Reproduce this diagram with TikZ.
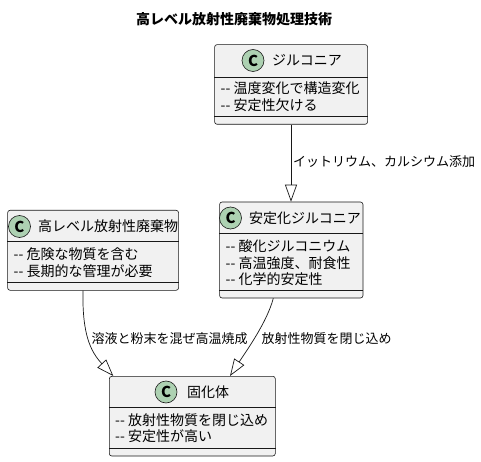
\documentclass[tikz,border=0pt]{standalone}
\usepackage{fontspec}
\setmainfont{Noto Sans CJK JP}
\usetikzlibrary{arrows.meta,calc}
\definecolor{boxfill}{HTML}{F1F1F1}
\definecolor{spotgreen}{HTML}{ADD1B2}
\definecolor{lineclr}{HTML}{181818}
\tikzset{
 cls/.style={draw=lineclr, fill=boxfill, rounded corners=2.5pt, line width=0.6pt, inner sep=0, anchor=north west},
 sepline/.style={draw=lineclr, line width=0.6pt},
 spot/.style={circle, draw=lineclr, fill=spotgreen, line width=0.6pt, minimum size=22pt, inner sep=0, font=\bfseries\fontsize{15}{15}\selectfont},
 cname/.style={anchor=west, inner sep=0, font=\fontsize{14}{16}\selectfont},
 attr/.style={anchor=west, inner sep=0, font=\fontsize{14}{16}\selectfont},
 lbl/.style={anchor=west, inner sep=0, font=\fontsize{13}{15}\selectfont},
 ext/.style={draw=lineclr, line width=0.7pt, -{Triangle[open, length=17pt, width=12pt]}},
}
\newcommand{\dd}{-{}-}
\begin{document}
\begin{tikzpicture}[x=1pt,y=-1pt]
\fill[white] (0,0) rectangle (481,462);
\useasboundingbox (0,0) rectangle (481,462);

\node[font=\bfseries\fontsize{14}{16}\selectfont, inner sep=0] (title) at (234,19) {高レベル放射性廃棄物処理技術};

% ジルコニア
\node[cls, minimum width=153pt, minimum height=79.7pt] (zr) at (214.3,44.3) {};
\draw[sepline] ($(zr.north west)+(0,33.4)$) -- ($(zr.north east)+(0,33.4)$);
\draw[sepline] ($(zr.north west)+(0,72.4)$) -- ($(zr.north east)+(0,72.4)$);
\node[spot] (zrc) at (253,60.5) {C};
\node[cname] (zrn) at (272,60.5) {ジルコニア};
\node[attr] (zra1) at (220.5,88.3) {\dd{} 温度変化で構造変化};
\node[attr] (zra2) at (220.5,105.5) {\dd{} 安定性欠ける};

% 高レベル放射性廃棄物
\node[cls, minimum width=171pt, minimum height=80pt] (hl) at (7.3,210) {};
\draw[sepline] ($(hl.north west)+(0,31.7)$) -- ($(hl.north east)+(0,31.7)$);
\draw[sepline] ($(hl.north west)+(0,72.3)$) -- ($(hl.north east)+(0,72.3)$);
\node[spot] (hlc) at (19.5,226.5) {C};
\node[cname] (hln) at (38,226.5) {高レベル放射性廃棄物};
\node[attr] (hla1) at (13.5,254.5) {\dd{} 危険な物質を含む};
\node[attr] (hla2) at (13.5,271) {\dd{} 長期的な管理が必要};

% 安定化ジルコニア
\node[cls, minimum width=143.4pt, minimum height=96pt] (sz) at (219.3,201.7) {};
\draw[sepline] ($(sz.north west)+(0,31.6)$) -- ($(sz.north east)+(0,31.6)$);
\draw[sepline] ($(sz.north west)+(0,89)$) -- ($(sz.north east)+(0,89)$);
\node[spot] (szc) at (230.5,218) {C};
\node[cname] (szn) at (249,218) {安定化ジルコニア};
\node[attr] (sza1) at (225.5,246.5) {\dd{} 酸化ジルコニウム};
\node[attr] (sza2) at (225.5,262.8) {\dd{} 高温強度、耐食性};
\node[attr] (sza3) at (225.5,278.8) {\dd{} 化学的安定性};

% 固化体
\node[cls, minimum width=166pt, minimum height=79.7pt] (so) at (109,376) {};
\draw[sepline] ($(so.north west)+(0,31.7)$) -- ($(so.north east)+(0,31.7)$);
\draw[sepline] ($(so.north west)+(0,72.3)$) -- ($(so.north east)+(0,72.3)$);
\node[spot] (soc) at (166,392) {C};
\node[cname] (son) at (187,392) {固化体};
\node[attr] (soa1) at (115,420) {\dd{} 放射性物質を閉じ込め};
\node[attr] (soa2) at (115,436) {\dd{} 安定性が高い};

% connectors
\draw[ext] ($(zr.south west)+(76.7,0)$) -- ($(sz.north west)+(71.7,0)$);
\node[lbl] (l1) at (293,162) {イットリウム、カルシウム添加};

\draw[ext] ($(hl.south west)+(75.7,0)$) .. controls (82,335) and (91,352) .. ($(so.north west)+(4.3,0)$);
\node[lbl] (l2) at (91.5,339) {溶液と粉末を混ぜ高温焼成};

\draw[ext] ($(sz.south west)+(54,0)$) .. controls (267,322) and (247,350) .. ($(so.north west)+(121,0)$);
\node[lbl] (l3) at (261.5,339) {放射性物質を閉じ込め};
\end{tikzpicture}
\end{document}
